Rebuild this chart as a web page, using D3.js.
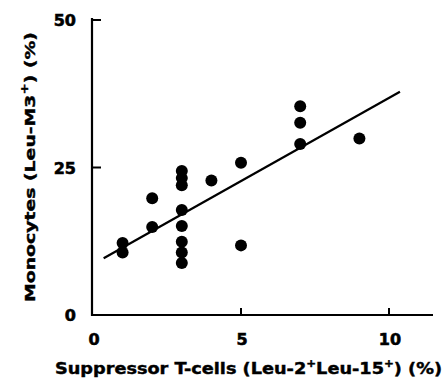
<!DOCTYPE html>
<html><head><meta charset="utf-8">
<script src="https://cdn.jsdelivr.net/npm/d3@7"></script>
<style>body{margin:0;background:#fff}svg{display:block}</style>
</head><body>
<script>
const xValues = [1, 1, 2, 2, 3, 3, 3, 3, 3, 3, 3, 3, 4, 5, 5, 7, 7, 7, 9];
const yValues = [12.2, 10.6, 19.8, 14.9, 24.4, 23.2, 22.0, 17.8, 15.1, 12.4, 10.6, 8.8, 22.8, 25.8, 11.8, 35.4, 32.6, 29.0, 29.9];
const fitX = [0.36, 10.37];
const fitIntercept = 8.6, fitSlope = 2.82;
const xTicks = [0, 5, 10];
const yTicks = [0, 25, 50];

const W = 444, H = 379;
const svg = d3.select("body").append("svg").attr("width", W).attr("height", H);
const x = d3.scaleLinear().domain([0, 10]).range([93, 389]);
const y = d3.scaleLinear().domain([0, 50]).range([315, 20]);
const font = "'DejaVu Sans', sans-serif";

// axes lines
svg.append("line").attr("x1", x(0) - 1).attr("x2", x(0) - 1).attr("y1", y(50) - 2).attr("y2", y(0) + 1)
  .attr("stroke", "#000").attr("stroke-width", 2.2);
svg.append("line").attr("x1", x(0) - 2).attr("x2", 433).attr("y1", y(0)).attr("y2", y(0))
  .attr("stroke", "#000").attr("stroke-width", 2.2);
yTicks.filter(d => d > 0).forEach(d => {
  svg.append("line").attr("x1", x(0)).attr("x2", x(0) + 8).attr("y1", y(d)).attr("y2", y(d))
    .attr("stroke", "#000").attr("stroke-width", 2);
});
xTicks.filter(d => d > 0).forEach(d => {
  svg.append("line").attr("x1", x(d)).attr("x2", x(d)).attr("y1", y(0)).attr("y2", y(0) - 7)
    .attr("stroke", "#000").attr("stroke-width", 2);
});
// tick labels
svg.selectAll(".yl").data(yTicks).enter().append("text")
  .attr("x", 76).attr("y", d => y(d) + 6).attr("text-anchor", "end")
  .attr("font-family", font).attr("font-weight", "bold").attr("font-size", 16)
  .attr("stroke", "#000").attr("stroke-width", 0.6).text(d => d);
svg.selectAll(".xl").data(xTicks).enter().append("text")
  .attr("x", d => x(d) + 1).attr("y", 345).attr("text-anchor", "middle")
  .attr("font-family", font).attr("font-weight", "bold").attr("font-size", 16)
  .attr("stroke", "#000").attr("stroke-width", 0.6).text(d => d);

// fit line
const line = d3.line().x(d => x(d)).y(d => y(fitIntercept + fitSlope * d));
svg.append("path").attr("d", line(fitX)).attr("fill", "none").attr("stroke", "#000").attr("stroke-width", 2.2);

// points
svg.selectAll("circle").data(xValues.map((d, i) => [d, yValues[i]])).enter().append("circle")
  .attr("cx", d => x(d[0])).attr("cy", d => y(d[1])).attr("r", 6).attr("fill", "#000");

// x title
const xt = svg.append("text").attr("x", 55).attr("y", 374)
  .attr("font-family", font).attr("font-weight", "bold").attr("font-size", 15)
  .attr("stroke", "#000").attr("stroke-width", 0.4)
  .attr("textLength", 387).attr("lengthAdjust", "spacingAndGlyphs");
xt.append("tspan").text("Suppressor T-cells (Leu-2");
xt.append("tspan").attr("dy", -7).attr("font-size", 10).text("+");
xt.append("tspan").attr("dy", 7).text("Leu-15");
xt.append("tspan").attr("dy", -7).attr("font-size", 10).text("+");
xt.append("tspan").attr("dy", 7).text(") (%)");

// y title
const yt = svg.append("text").attr("transform", "translate(35,302) rotate(-90)")
  .attr("font-family", font).attr("font-weight", "bold").attr("font-size", 14)
  .attr("stroke", "#000").attr("stroke-width", 0.4)
  .attr("textLength", 270).attr("lengthAdjust", "spacingAndGlyphs");
yt.append("tspan").text("Monocytes (Leu-M3");
yt.append("tspan").attr("dy", -7).attr("font-size", 10).text("+");
yt.append("tspan").attr("dy", 7).text(") (%)");
</script>
</body></html>
